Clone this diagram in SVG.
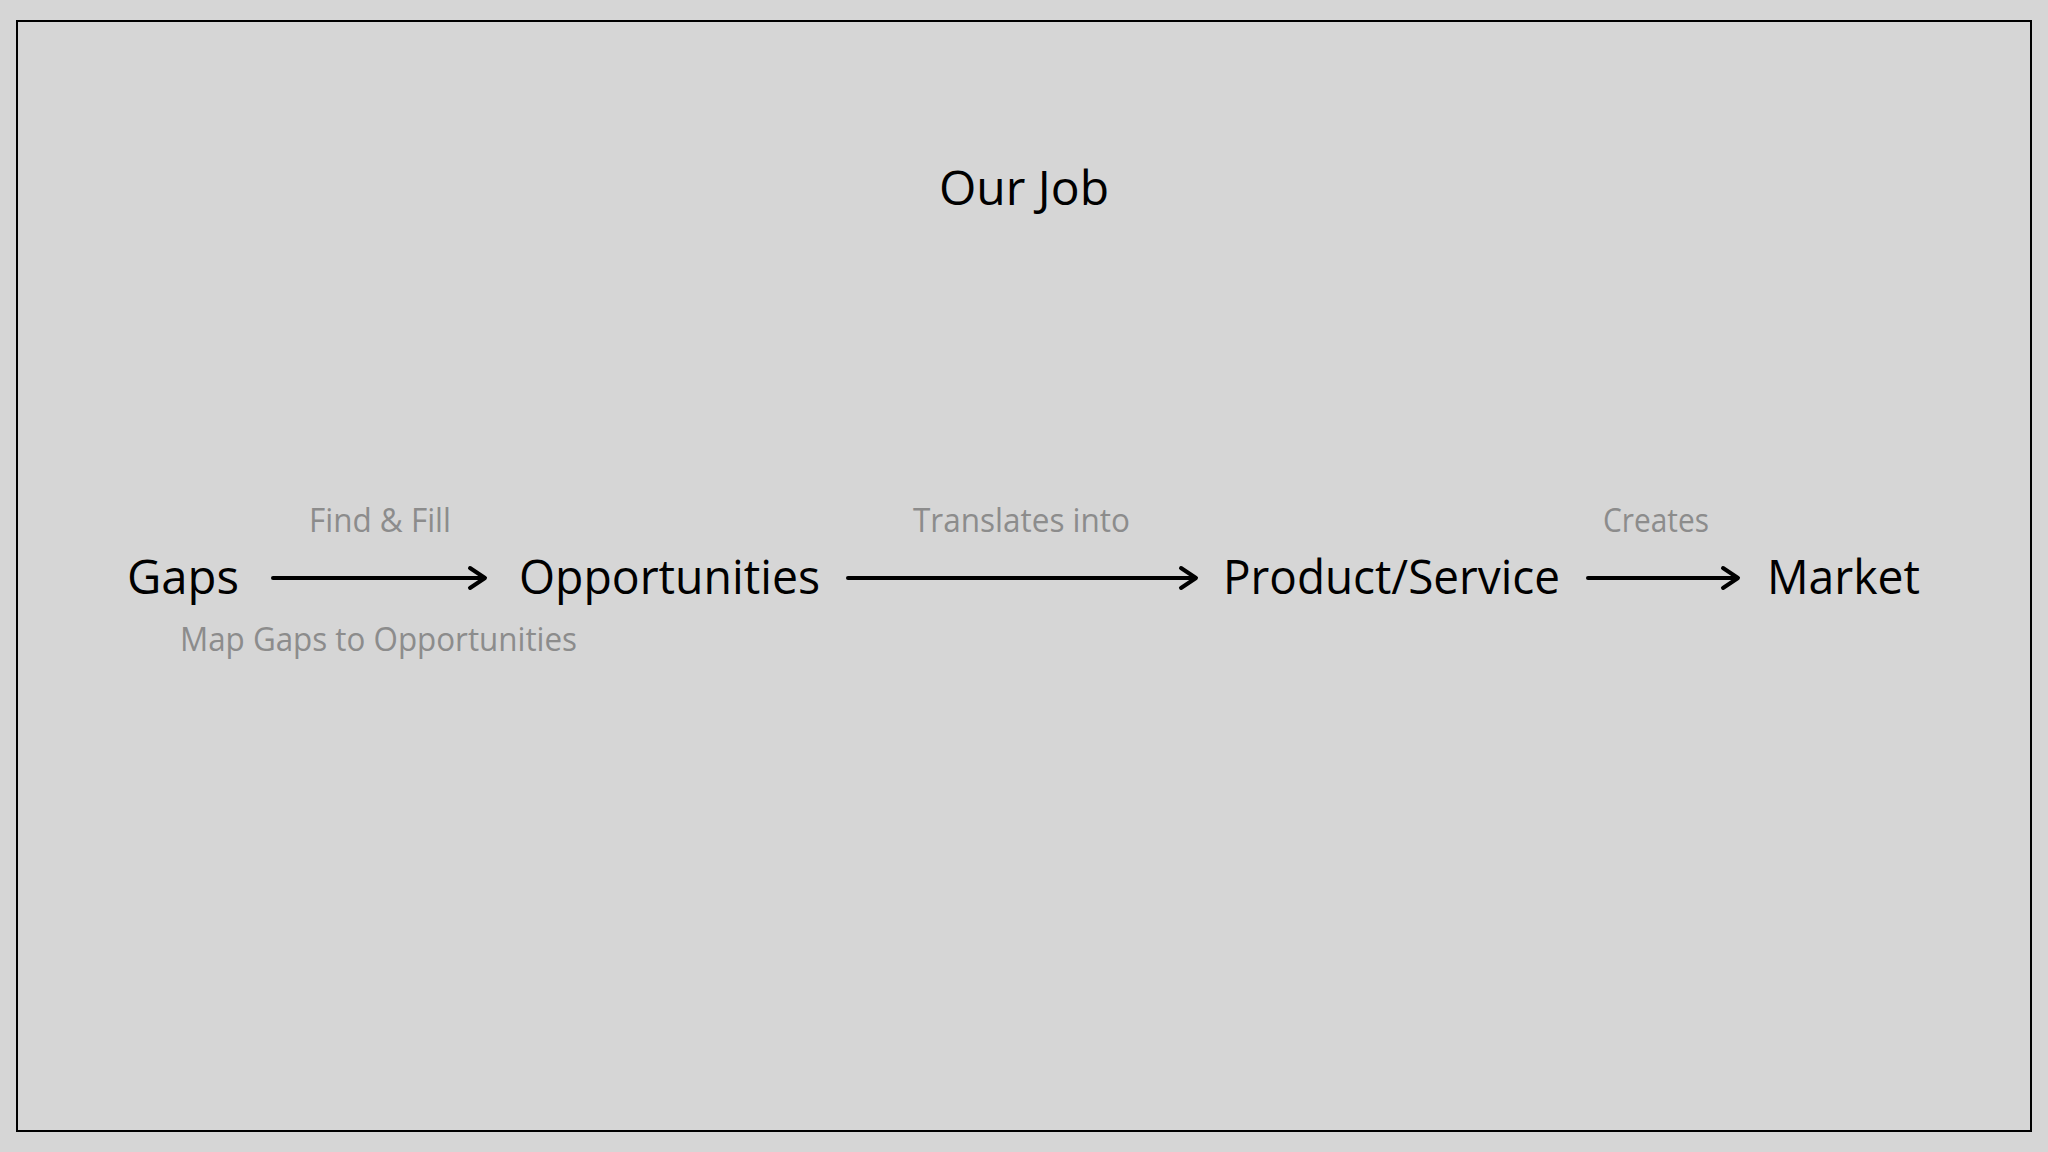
<svg xmlns="http://www.w3.org/2000/svg" width="2048" height="1152" viewBox="0 0 2048 1152">
  <defs>
    <style>
      .main { font-family: "Open Sans", "Noto Sans", "DejaVu Sans", sans-serif; font-size: 48px; fill: #000000; }
      .sub { font-family: "Open Sans", "Noto Sans", "DejaVu Sans", sans-serif; font-size: 32px; fill: #8c8c8c; }
      .title { font-family: "Open Sans", "Noto Sans", "DejaVu Sans", sans-serif; font-size: 48px; fill: #000000; }
      .edge { fill: none; stroke: #000000; stroke-width: 4; stroke-linecap: round; stroke-linejoin: round; }
    </style>
  </defs>
  <rect x="0" y="0" width="2048" height="1152" fill="#d6d6d6"/>
  <rect x="17" y="21" width="2014" height="1110" fill="#d6d6d6" stroke="#000000" stroke-width="2"/>

  <g id="title">
    <text class="title" x="1024" y="205" text-anchor="middle">Our Job</text>
  </g>

  <g id="connectors">
    <g id="edge-gaps-opportunities">
      <line class="edge" x1="273" y1="578" x2="483" y2="578"/>
      <polyline class="edge" points="470,568 485,578 470,588"/>
    </g>
    <g id="edge-opportunities-product">
      <line class="edge" x1="848" y1="578" x2="1194" y2="578"/>
      <polyline class="edge" points="1181,568 1196,578 1181,588"/>
    </g>
    <g id="edge-product-market">
      <line class="edge" x1="1588" y1="578" x2="1736" y2="578"/>
      <polyline class="edge" points="1723,568 1738,578 1723,588"/>
    </g>
    <text class="sub" x="309" y="532" textLength="142" lengthAdjust="spacingAndGlyphs">Find &amp; Fill</text>
    <text class="sub" x="180" y="651" textLength="397" lengthAdjust="spacingAndGlyphs">Map Gaps to Opportunities</text>
    <text class="sub" x="913" y="532" textLength="217" lengthAdjust="spacingAndGlyphs">Translates into</text>
    <text class="sub" x="1603" y="532" textLength="106" lengthAdjust="spacingAndGlyphs">Creates</text>
  </g>

  <g id="node-gaps">
    <text class="main" x="127" y="594" textLength="112" lengthAdjust="spacingAndGlyphs">Gaps</text>
  </g>
  <g id="node-opportunities">
    <text class="main" x="519" y="594" textLength="301" lengthAdjust="spacingAndGlyphs">Opportunities</text>
  </g>
  <g id="node-product-service">
    <text class="main" x="1223" y="594" textLength="337" lengthAdjust="spacingAndGlyphs">Product/Service</text>
  </g>
  <g id="node-market">
    <text class="main" x="1767" y="594" textLength="153" lengthAdjust="spacingAndGlyphs">Market</text>
  </g>
</svg>
